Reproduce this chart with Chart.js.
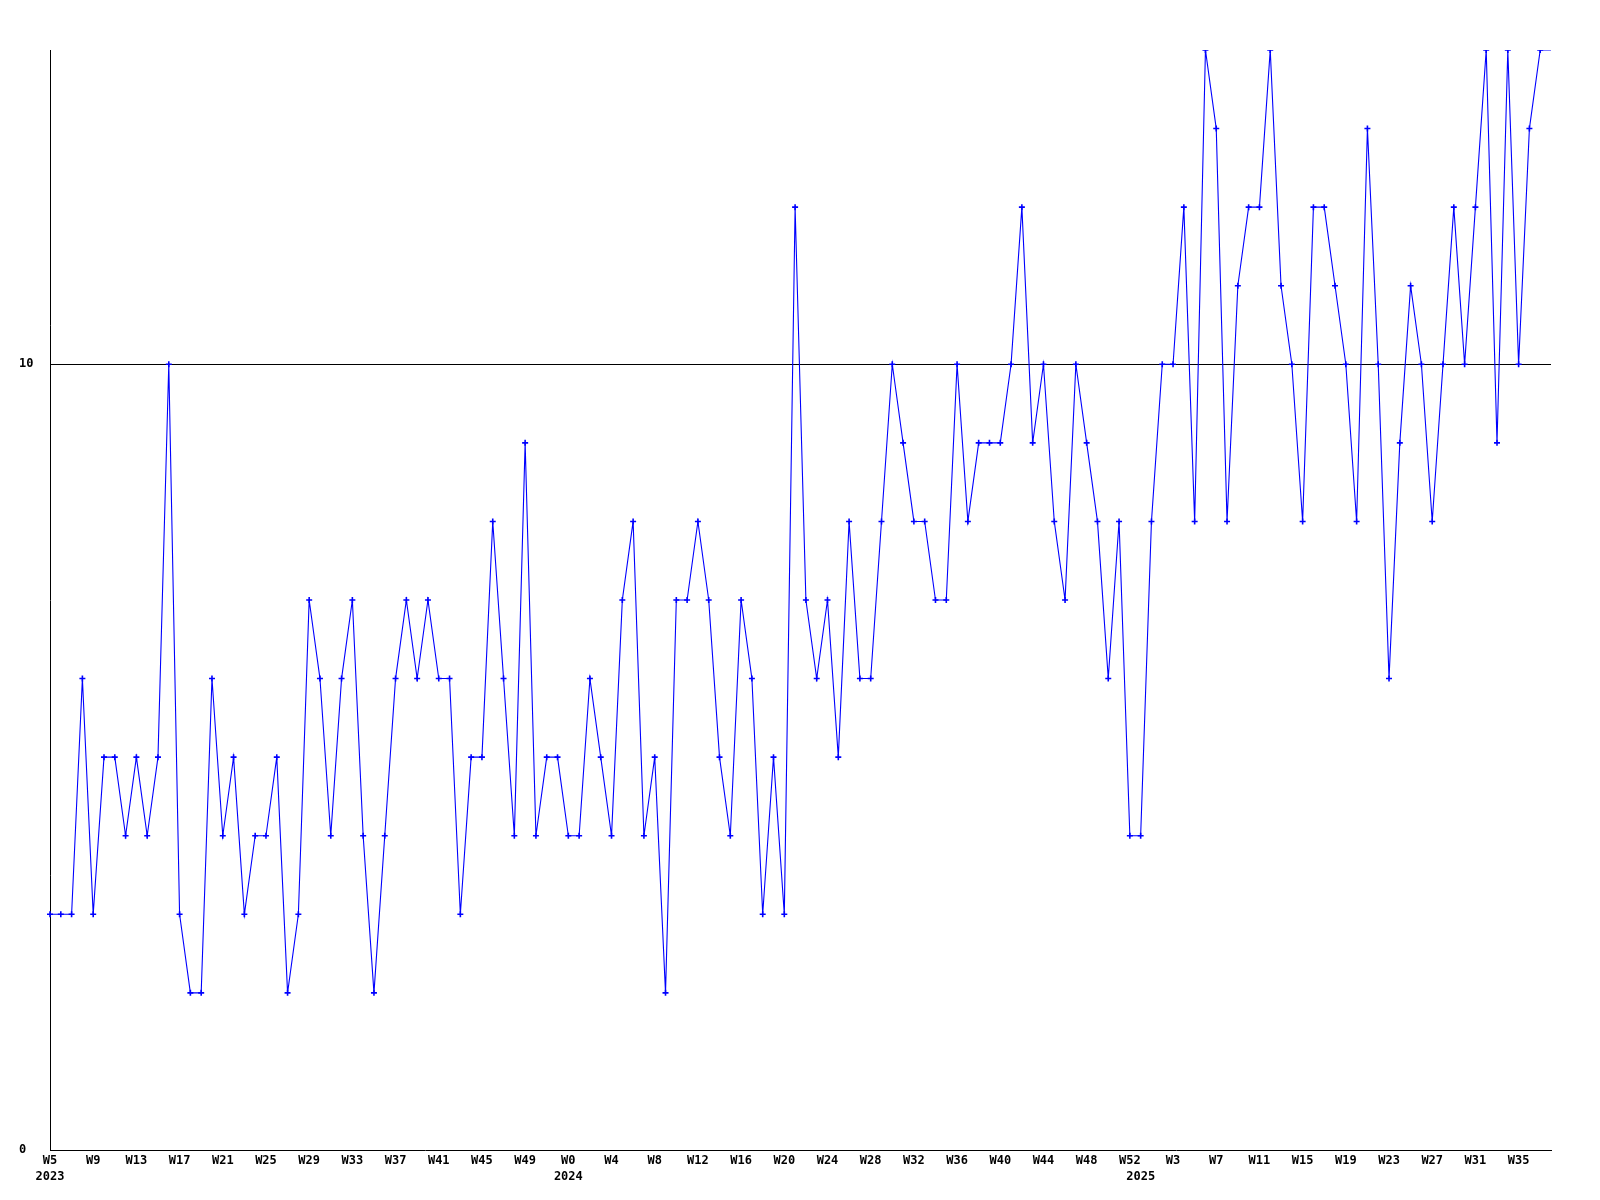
<!DOCTYPE html>
<html>
<head>
<meta charset="utf-8">
<script src="https://cdn.jsdelivr.net/npm/chart.js@4.4.1/dist/chart.umd.min.js"></script>
<style>
  html, body { margin: 0; padding: 0; background: #ffffff; }
  #wrap { width: 1600px; height: 1200px; }
</style>
</head>
<body>
<div id="wrap"><canvas id="c" width="1600" height="1200"></canvas></div>
<script>
// ---- data ----
const years = ["2023", "2024", "2025"];
const weeks2023 = ["W5","W6","W7","W8","W9","W10","W11","W12","W13","W14","W15","W16","W17","W18","W19","W20",
  "W21","W22","W23","W24","W25","W26","W27","W28","W29","W30","W31","W32","W33","W34","W35","W36",
  "W37","W38","W39","W40","W41","W42","W43","W44","W45","W46","W47","W48","W49","W50","W51","W52"];
const weeks2024 = ["W0","W1","W2","W3","W4","W5","W6","W7","W8","W9","W10","W11","W12","W13","W14","W15","W16",
  "W17","W18","W19","W20","W21","W22","W23","W24","W25","W26","W27","W28","W29","W30","W31","W32",
  "W33","W34","W35","W36","W37","W38","W39","W40","W41","W42","W43","W44","W45","W46","W47","W48",
  "W49","W50","W51","W52"];
const weeks2025 = ["W0","W1","W2","W3","W4","W5","W6","W7","W8","W9","W10","W11","W12","W13","W14","W15","W16",
  "W17","W18","W19","W20","W21","W22","W23","W24","W25","W26","W27","W28","W29","W30","W31","W32",
  "W33","W34","W35","W36","W37","W38"];
const values = [
  3,3,3,6,3,5,5,4,5,4,5,10,3,2,2,6,4,5,3,4,4,5,2,3,7,
  6,4,6,7,4,2,4,6,7,6,7,6,6,3,5,5,8,6,4,9,4,5,5,4,
  4,6,5,4,7,8,4,5,2,7,7,8,7,5,4,7,6,3,5,3,12,7,6,7,
  5,8,6,6,8,10,9,8,8,7,7,10,8,9,9,9,10,12,9,10,8,7,10,9,
  8,6,8,4,4,8,10,10,12,8,14,13,8,11,12,12,14,11,10,8,12,12,11,10,
  8,13,10,6,9,11,10,8,10,12,10,12,14,9,14,10,13,14,14
];
const yTickValues = [0, 10];
const yMax = 14;
const labelEvery = 4;

// ---- build ----
const categories = [].concat(weeks2023, weeks2024, weeks2025);
const yearStart = {};
yearStart[0] = years[0];
yearStart[weeks2023.length] = years[1];
yearStart[weeks2023.length + weeks2024.length] = years[2];

const FONT = { family: "'DejaVu Sans Mono', monospace", size: 12, weight: 'bold', lineHeight: 16/12 };

const pointRadii = values.map((v, i) => (i === values.length - 1 ? 0 : 3));

new Chart(document.getElementById('c'), {
  type: 'line',
  data: {
    labels: categories,
    datasets: [{
      data: values,
      borderColor: '#0000ff',
      backgroundColor: '#0000ff',
      borderWidth: 1.1,
      tension: 0,
      fill: false,
      pointStyle: 'cross',
      pointRadius: pointRadii,
      pointBorderWidth: 1.6,
      pointBorderColor: '#0000ff',
      pointHoverRadius: 0
    }]
  },
  options: {
    responsive: false,
    animation: false,
    devicePixelRatio: 1,
    layout: { padding: { left: 19, right: 49, top: 50, bottom: 0 } },
    plugins: { legend: { display: false }, tooltip: { enabled: false }, title: { display: false } },
    scales: {
      x: {
        type: 'category',
        offset: false,
        grid: { display: false, drawTicks: false },
        border: { display: true, color: '#000000', width: 1 },
        ticks: {
          autoSkip: false,
          maxRotation: 0,
          minRotation: 0,
          padding: 3,
          color: '#000000',
          font: FONT,
          callback: function(val, idx) {
            const w = (idx % labelEvery === 0) ? categories[idx] : '';
            if (yearStart[idx] !== undefined) return [w, yearStart[idx]];
            return w;
          }
        },
        afterFit: function(scale) { scale.height = 50; }
      },
      y: {
        min: 0,
        max: yMax,
        afterBuildTicks: function(scale) { scale.ticks = yTickValues.map(v => ({ value: v })); },
        grid: {
          drawTicks: false,
          color: function(ctx) { return (ctx.tick && ctx.tick.value === 10) ? '#000000' : 'rgba(0,0,0,0)'; },
          lineWidth: 1
        },
        border: { display: true, color: '#000000', width: 1 },
        ticks: {
          crossAlign: 'far',
          padding: 0,
          color: '#000000',
          font: FONT,
          callback: function(v) { return String(v); }
        },
        afterFit: function(scale) { scale.width = 31; }
      }
    }
  }
});
</script>
</body>
</html>
